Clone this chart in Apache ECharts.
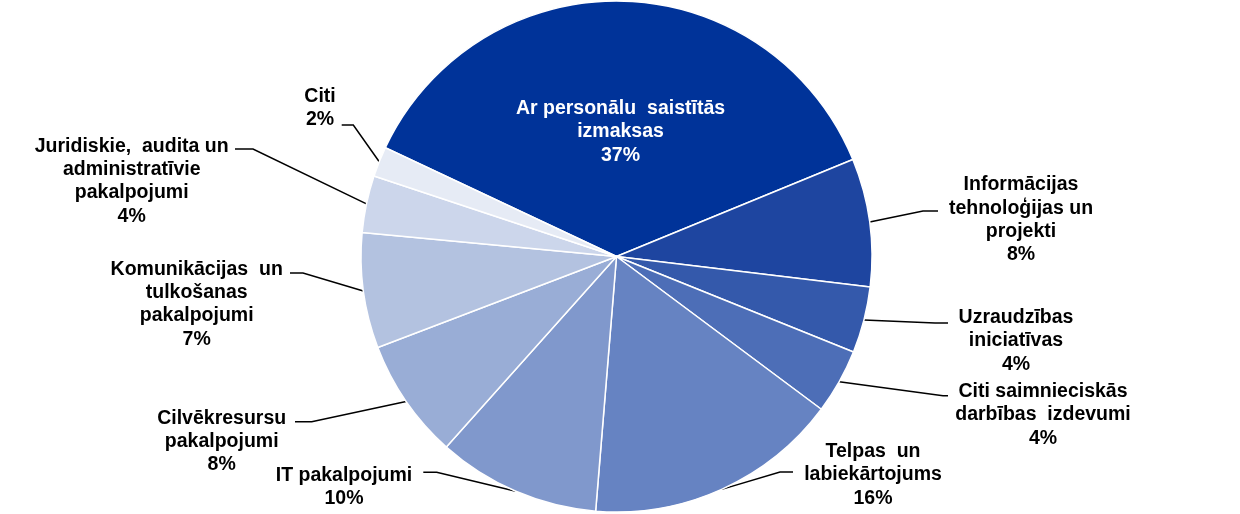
<!DOCTYPE html>
<html>
<head>
<meta charset="utf-8">
<script src="https://cdn.jsdelivr.net/npm/echarts@6/dist/echarts.min.js"></script>
<style>
html,body{margin:0;padding:0;background:#fff;}
#chart{width:1240px;height:514px;}
</style>
</head>
<body>
<div id="chart"></div>
<script>
const categories = [
  'Ar personālu saistītās izmaksas',
  'Informācijas tehnoloģijas un projekti',
  'Uzraudzības iniciatīvas',
  'Citi saimnieciskās darbības izdevumi',
  'Telpas un labiekārtojums',
  'IT pakalpojumi',
  'Cilvēkresursu pakalpojumi',
  'Komunikācijas un tulkošanas pakalpojumi',
  'Juridiskie, audita un administratīvie pakalpojumi',
  'Citi'
];
const labelText = [
  'Ar personālu  saistītās\nizmaksas',
  'Informācijas\ntehnoloģijas un\nprojekti',
  'Uzraudzības\niniciatīvas',
  'Citi saimnieciskās\ndarbības  izdevumi',
  'Telpas  un\nlabiekārtojums',
  'IT pakalpojumi',
  'Cilvēkresursu\npakalpojumi',
  'Komunikācijas  un\ntulkošanas\npakalpojumi',
  'Juridiskie,  audita un\nadministratīvie\npakalpojumi',
  'Citi'
];
const values = [36.8, 8.1, 4.2, 4.1, 16.1, 10.3, 7.6, 7.3, 3.6, 1.9];
const colors = ['#003399', '#1E45A0', '#3459AB', '#4D6EB7', '#6683C2', '#8098CC', '#99ADD6', '#B3C2E0', '#CCD6EB', '#E6EBF5'];

// label centres and leader-line bends (annotation layout)
const labelAnchors = [[620.5, 132], [1021, 220], [1016, 341], [1043, 415], [873, 475], [344, 487], [221.7, 441.7], [196.7, 304.3], [131.7, 181.3], [320, 108]];
const lineBends = [null,
  [[923, 211], [938, 211]],
  [[935, 323], [948, 323]],
  [[943, 395.7], [948, 395.7]],
  [[780, 472], [793, 472]],
  [[436.7, 472.3], [423.3, 472.3]],
  [[311.7, 421.7], [295, 421.7]],
  [[303, 273], [290, 273]],
  [[253, 149], [235, 149]],
  [[353.3, 125], [341.7, 125]]
];

const chart = echarts.init(document.getElementById('chart'), null, {renderer: 'canvas'});
const data = categories.map((c, i) => {
  const item = {name: c, value: values[i], itemStyle: {color: colors[i]}};
  if (i === 0) {
    item.label = {position: 'inside', color: '#ffffff'};
    item.labelLine = {show: false};
  }
  return item;
});

chart.setOption({
  animation: false,
  backgroundColor: '#ffffff',
  series: [{
    type: 'pie',
    center: [616.5, 256.5],
    radius: [0, 255.5],
    startAngle: 154.8,
    clockwise: true,
    avoidLabelOverlap: false,
    data: data,
    itemStyle: {borderColor: '#ffffff', borderWidth: 1.5},
    label: {
      show: true,
      position: 'outside',
      fontFamily: 'Liberation Sans, Arial, sans-serif',
      fontWeight: 'bold',
      fontSize: 19.5,
      lineHeight: 23.3,
      color: '#000000',
      align: 'center',
      formatter: p => labelText[p.dataIndex] + '\n' + Math.round(p.percent) + '%'
    },
    labelLine: {
      show: true,
      length: 10,
      length2: 10,
      lineStyle: {color: '#000000', width: 1.5}
    },
    labelLayout: function (params) {
      const i = params.dataIndex;
      const out = {
        x: labelAnchors[i][0],
        y: labelAnchors[i][1],
        align: 'center',
        verticalAlign: 'middle'
      };
      if (lineBends[i]) {
        const start = params.labelLinePoints ? params.labelLinePoints[0] : null;
        const pts = [];
        if (start) pts.push([start[0], start[1]]);
        lineBends[i].forEach(p => pts.push(p));
        out.labelLinePoints = pts;
      }
      return out;
    }
  }]
});
</script>
</body>
</html>
